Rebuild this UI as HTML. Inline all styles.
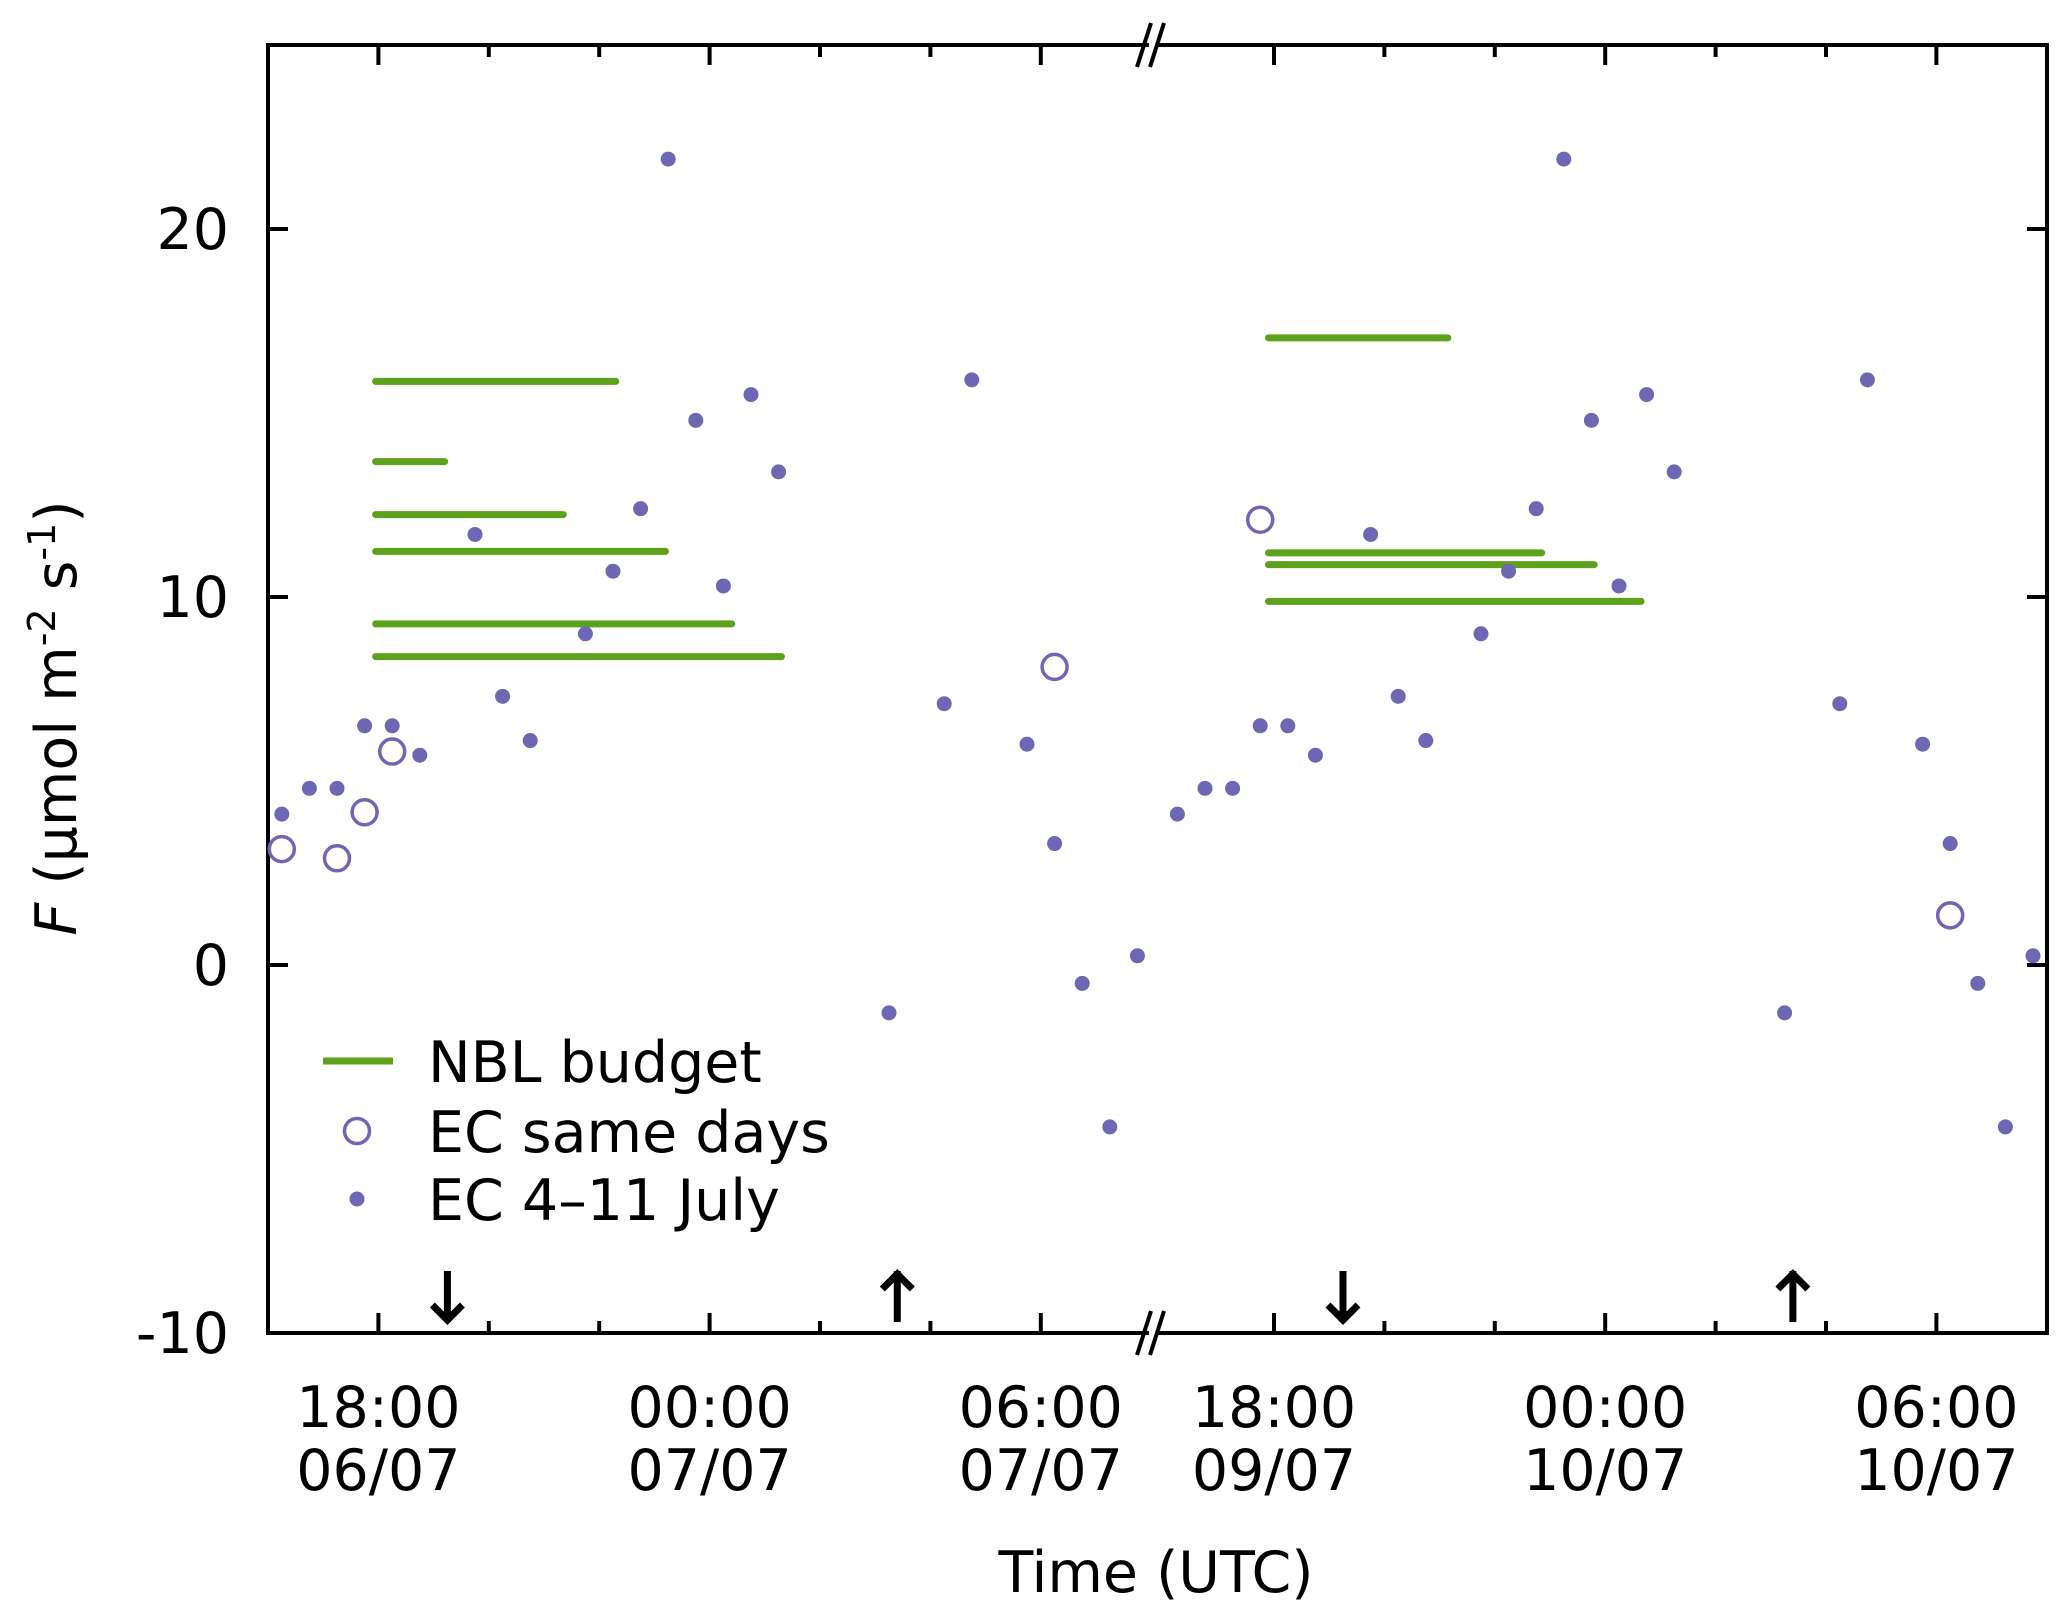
<!DOCTYPE html>
<html><head><meta charset="utf-8"><style>
body{margin:0;background:#fff}
svg{display:block;font-family:"DejaVu Sans","Liberation Sans",sans-serif}
</style></head><body>
<svg id="chart" width="2067" height="1616" viewBox="0 0 2067 1616">
<g id="plot"></g>
</svg>
<script>
// EC 4-11 July: hour of day (continuous, >24 = next day) and flux
const ecHours = [16.25,16.75,17.25,17.75,18.25,18.75,19.75,20.25,20.75,21.75,22.25,22.75,23.25,23.75,24.25,24.75,25.25,27.25,28.25,28.75,29.75,30.25,30.75,31.25,31.75];
const ecValues = [4.1,4.8,4.8,6.5,6.5,5.7,11.7,7.3,6.1,9.0,10.7,12.4,21.9,14.8,10.3,15.5,13.4,-1.3,7.1,15.9,6.0,3.3,-0.5,-4.4,0.25];
// EC same days: segment index, hour, value
const sameSeg = [0,0,0,0,0,1,1];
const sameHours = [16.25,17.25,17.75,18.25,30.25,17.75,30.25];
const sameValues = [3.15,2.9,4.15,5.8,8.1,12.1,1.35];
// NBL budget lines
const nblSeg = [0,0,0,0,0,0,1,1,1,1];
const nblStart = [17.95,17.95,17.95,17.95,17.95,17.95,17.9,17.9,17.9,17.9];
const nblEnd = [22.3,19.2,21.35,23.2,24.4,25.3,21.15,22.85,23.8,24.65];
const nblValues = [15.86,13.68,12.24,11.24,9.27,8.38,17.04,11.2,10.88,9.88];
// arrows (sunset down, sunrise up)
const arrowSeg = [0,0,1,1];
const arrowHours = [19.25,27.4,19.25,27.4];
const arrowDir = ['down','up','down','up'];
const yTicks = [20,10,0,-10];
const xMajorHours = [18,24,30];
const xLabels1 = [["18:00","06/07"],["00:00","07/07"],["06:00","07/07"]];
const xLabels2 = [["18:00","09/07"],["00:00","10/07"],["06:00","10/07"]];

const L=268,R=2047,T=45,B=1333,BRK=1153;
const PPH=55.2;
function xs(seg,h){return seg===0? 268+(h-16)*PPH : 1274+(h-18)*PPH;}
function ys(v){return 965-v*36.8;}
const NS="http://www.w3.org/2000/svg";
const g=document.getElementById('plot');
function mk(tag,attrs,parent){const e=document.createElementNS(NS,tag);for(const k in attrs)e.setAttribute(k,attrs[k]);(parent||g).appendChild(e);return e;}

const frame=mk('g',{stroke:'#000','stroke-width':4,fill:'none','stroke-linecap':'square'});


mk('path',{d:`M${BRK-6},${T} H${L} V${B} H${BRK-6} M${BRK+6},${T} H${R} V${B} H${BRK+6}`},frame);
[T,B].forEach(y=>{
  const br=mk('g',{stroke:'#000','stroke-width':4});
  
  
  mk('line',{x1:BRK-16,y1:y+22,x2:BRK-2,y2:y-22},br);
  mk('line',{x1:BRK-3,y1:y+22,x2:BRK+11,y2:y-22},br);
});
yTicks.forEach(v=>{
  const y=ys(v);
  mk('line',{x1:L,y1:y,x2:L+20,y2:y,stroke:'#000','stroke-width':4});
  mk('line',{x1:R-20,y1:y,x2:R,y2:y,stroke:'#000','stroke-width':4});
  const t=mk('text',{x:229,y:y+20,'font-size':57,'text-anchor':'end'});
  t.textContent=v;
  
  
});
[0,1].forEach(seg=>{
  for(let h=18;h<=30;h+=2){
    const x=xs(seg,h);const len=xMajorHours.includes(h)?20:12;
    mk('line',{x1:x,y1:B,x2:x,y2:B-len,stroke:'#000','stroke-width':4});
    mk('line',{x1:x,y1:T,x2:x,y2:T+len,stroke:'#000','stroke-width':4});
  }
  const labs=seg===0?xLabels1:xLabels2;
  xMajorHours.forEach((h,i)=>{
    const x=xs(seg,h);
    const t=mk('text',{x:x,y:1427,'font-size':57,'text-anchor':'middle'});
    t.textContent=labs[i][0];
    
    
    const d=mk('text',{x:x,y:1490,'font-size':57,'text-anchor':'middle'});
    d.textContent=labs[i][1];
    
    
  });
});
nblValues.forEach((v,i)=>{
  const l=mk('line',{x1:xs(nblSeg[i],nblStart[i]),x2:xs(nblSeg[i],nblEnd[i]),y1:ys(v),y2:ys(v),stroke:'#5ea11a','stroke-width':7,'stroke-linecap':'round'});
  
  
});
[0,1].forEach(seg=>{
  ecValues.forEach((v,i)=>{
    const c=mk('circle',{cx:xs(seg,ecHours[i]),cy:ys(v),r:7.5,fill:'#6e67b3'});
    
    
  });
});
sameValues.forEach((v,i)=>{
  const c=mk('circle',{cx:xs(sameSeg[i],sameHours[i]),cy:ys(v),r:12.5,fill:'none',stroke:'#6e67b3','stroke-width':3.5});
  
  
});
arrowHours.forEach((h,i)=>{
  const x=xs(arrowSeg[i],h);
  const a=mk('g',{stroke:'#000','stroke-width':7,fill:'none'});
  
  
  mk('line',{x1:x,y1:1271,x2:x,y2:1322},a);
  if(arrowDir[i]==='down') mk('path',{d:`M${x-15},${1305} L${x},${1320} L${x+15},${1305}`},a);
  else mk('path',{d:`M${x-15},${1289} L${x},${1274} L${x+15},${1289}`},a);
});
</script>
<svg style="position:absolute;left:0;top:0" width="2067" height="1616">
<g font-family="DejaVu Sans, Liberation Sans, sans-serif" font-size="57">
<line x1="323" y1="1061" x2="393" y2="1061" stroke="#5ea11a" stroke-width="7"/>
<text x="428" y="1082">NBL budget</text>
<circle cx="357" cy="1131" r="12.5" fill="none" stroke="#6e67b3" stroke-width="3.5"/>
<text x="428" y="1152">EC same days</text>
<circle cx="357" cy="1199" r="7.5" fill="#6e67b3"/>
<text x="428" y="1220">EC 4–11 July</text>
</g>
<text x="1156" y="1592" font-size="57" text-anchor="middle" font-family="DejaVu Sans, Liberation Sans, sans-serif">Time (UTC)</text>
<text transform="translate(76,718) rotate(-90)" font-size="57" text-anchor="middle" font-family="DejaVu Sans, Liberation Sans, sans-serif"><tspan font-style="italic">F</tspan> (μmol m<tspan font-size="38" dy="-21">-2</tspan><tspan dy="21"> s</tspan><tspan font-size="38" dy="-21">-1</tspan><tspan dy="21">)</tspan></text>
</svg>
</body></html>
